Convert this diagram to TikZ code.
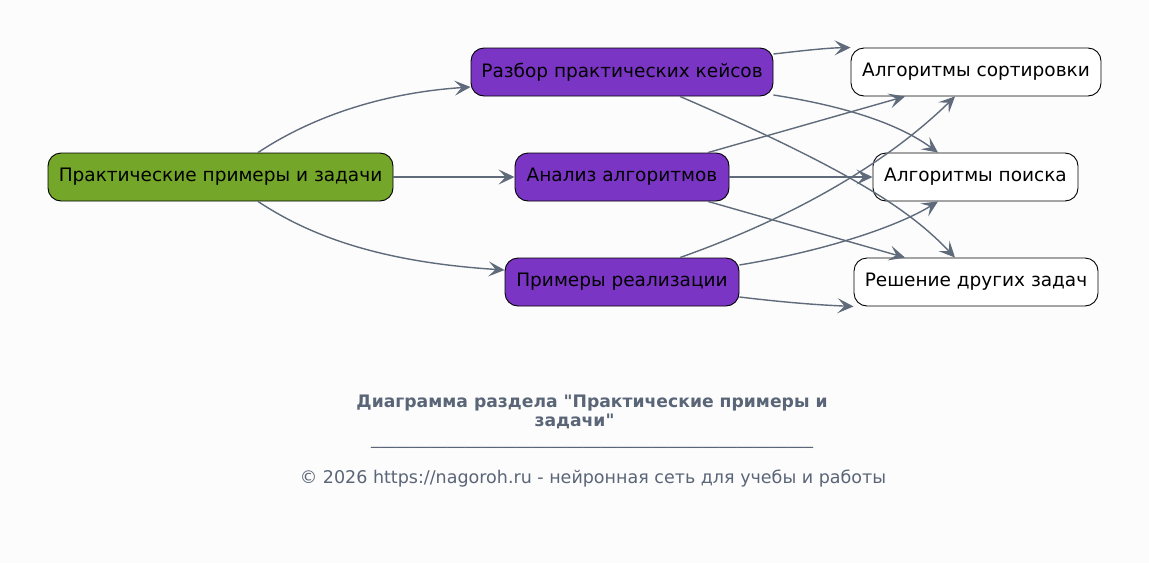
\documentclass[tikz,border=0pt]{standalone}
\usepackage{fontspec}
\setmainfont{DejaVu Sans}[Ligatures=TeXOff]
\usetikzlibrary{arrows.meta}
\definecolor{bgcol}{HTML}{FCFCFC}
\definecolor{rootcol}{HTML}{73A629}
\definecolor{subcol}{HTML}{7B35C5}
\definecolor{linkcol}{HTML}{5F6B7B}
\definecolor{notecol}{HTML}{5A6577}
\tikzset{
  box/.style = {
    draw = black,
    line width = 0.9pt,
    rounded corners = 13pt,
    minimum height = 48pt,
    inner sep = 0pt,
    font = \fontsize{18.5}{22}\selectfont
  },
  % the main topic
  rootbox/.style = {box, fill = rootcol},
  % second level
  subbox/.style = {box, fill = subcol},
  % leaves
  leafbox/.style = {box, fill = white},
  link/.style = {
    draw = linkcol,
    line width = 1.4pt,
    -{Stealth[length=16pt, width=15pt, inset=7pt]}
  }
}
\begin{document}
\begin{tikzpicture}[x=1pt, y=-1pt]
  \fill[bgcol] (0,0) rectangle (1149,563);
  \useasboundingbox (0,0) rectangle (1149,563);

  \node[rootbox, minimum width=345pt] (root) at (220.5,177) {Практические примеры и задачи};

  \node[subbox, minimum width=302pt] (cases) at (622,72) {Разбор практических кейсов};
  \node[subbox, minimum width=214pt] (analysis) at (622,177) {Анализ алгоритмов};
  \node[subbox, minimum width=234pt] (impl) at (622,282) {Примеры реализации};

  \node[leafbox, minimum width=250pt] (sorting) at (976,72) {Алгоритмы сортировки};
  \node[leafbox, minimum width=205pt] (search) at (975.5,177) {Алгоритмы поиска};
  \node[leafbox, minimum width=244pt] (other) at (976,282) {Решение других задач};

  % from the root
  \draw[link] ([xshift=37.5pt]root.north)
    .. controls (310,118) and (380,93) .. ([yshift=-15pt]cases.west);
  \draw[link] (root) -- (analysis);
  \draw[link] ([xshift=37.5pt]root.south)
    .. controls (310,236) and (380,262) .. ([yshift=12pt]impl.west);

  % from the cases
  \draw[link] ([yshift=18pt]cases.east)
    .. controls (800,51) and (825,48) .. (sorting.north west);
  \draw[link] ([yshift=-23pt]cases.east)
    .. controls (850,107) and (900,125) .. ([xshift=-37.5pt]search.north);
  \draw[link] ([xshift=58pt]cases.south)
    .. controls (850,170) and (910,210) .. ([xshift=-21pt]other.north);

  % from the analysis
  \draw[link] ([xshift=86pt]analysis.north) -- ([xshift=-71pt]sorting.south);
  \draw[link] (analysis) -- (search);
  \draw[link] ([xshift=86pt]analysis.south) -- ([xshift=-71pt]other.north);

  % from the examples
  \draw[link] ([xshift=58pt]impl.north)
    .. controls (800,215) and (890,160) .. ([xshift=-21pt]sorting.south);
  \draw[link] ([yshift=17pt]impl.east)
    .. controls (830,250) and (900,225) .. ([xshift=-37.5pt]search.south);
  \draw[link] ([yshift=-15pt]impl.east)
    .. controls (790,303) and (820,305) .. (other.south west);

  % caption
  \node[text=notecol, font=\fontsize{17.2}{18.5}\selectfont\bfseries, align=center] (title) at (592,412)
    {Диаграмма раздела "Практические примеры и\\задачи"\hspace*{35pt}};
  \node[text=notecol, font=\fontsize{17}{19}\selectfont] (rule) at (592,446)
    {\_\_\_\_\_\_\_\_\_\_\_\_\_\_\_\_\_\_\_\_\_\_\_\_\_\_\_\_\_\_\_\_\_\_\_\_\_\_\_\_\_\_\_\_\_\_\_\_\_\_\_\_};
  \node[text=notecol, font=\fontsize{17.5}{20}\selectfont] (copy) at (593,479)
    {© 2026 https://nagoroh.ru - нейронная сеть для учебы и работы};
\end{tikzpicture}
\end{document}
